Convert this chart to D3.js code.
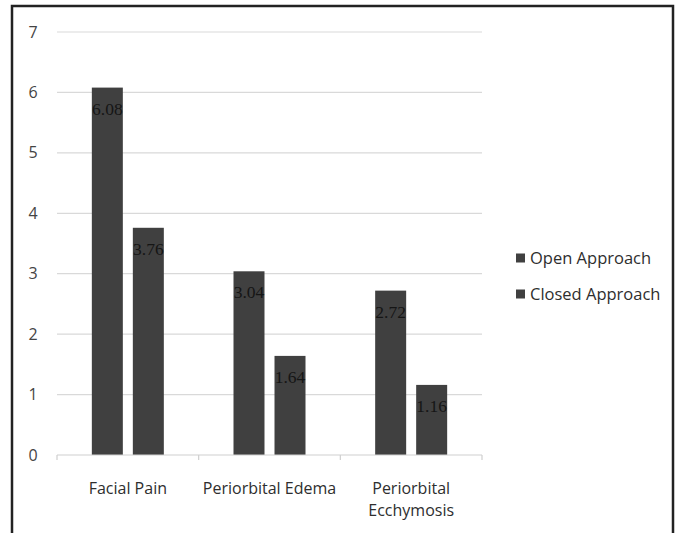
<!DOCTYPE html>
<html>
<head>
<meta charset="utf-8">
<script src="https://cdnjs.cloudflare.com/ajax/libs/d3/7.8.5/d3.min.js"></script>
<style>
  html, body { margin: 0; padding: 0; background: #fff; }
  svg { display: block; }
</style>
</head>
<body>
<svg id="chart" width="678" height="533"></svg>
<script>
// Symptom scores by surgical approach
const categories = [["Facial Pain"], ["Periorbital Edema"], ["Periorbital", "Ecchymosis"]];
const seriesNames = ["Open Approach", "Closed Approach"];
const openValues = [6.08, 3.04, 2.72];
const closedValues = [3.76, 1.64, 1.16];
const yTicks = [0, 1, 2, 3, 4, 5, 6, 7];

const svg = d3.select("#chart");
const W = 678, H = 533;
const plot = { left: 57, right: 482, top: 32, bottom: 455 };
const barColor = "#404040";
const textColor = "#2e2e2e";
const sansFont = "'Open Sans', Lato, sans-serif";

// outer frame (open at the bottom)
svg.append("path")
  .attr("d", `M12,${H} L12,6 L673,6 L673,${H}`)
  .attr("fill", "none")
  .attr("stroke", "#222")
  .attr("stroke-width", 2.5);

const x0 = d3.scaleBand()
  .domain(d3.range(categories.length))
  .range([plot.left, plot.right]);

const y = d3.scaleLinear()
  .domain([0, 7])
  .range([plot.bottom, plot.top]);

// horizontal gridlines
svg.append("g")
  .selectAll("line")
  .data(yTicks.filter(t => t > 0))
  .join("line")
  .attr("x1", plot.left).attr("x2", plot.right)
  .attr("y1", d => y(d)).attr("y2", d => y(d))
  .attr("stroke", "#d9d9d9")
  .attr("stroke-width", 1.2);

// y tick labels
svg.append("g")
  .selectAll("text")
  .data(yTicks)
  .join("text")
  .attr("x", 33)
  .attr("y", d => y(d))
  .attr("dy", "0.35em")
  .attr("text-anchor", "middle")
  .attr("font-family", sansFont)
  .attr("font-size", 16)
  .attr("fill", "#444")
  .text(d => d);

// bars
const groupInner = 72;
const x1 = d3.scaleBand().domain([0, 1]).range([0, groupInner]).paddingInner(0.244);
const series = [openValues, closedValues];

const groups = svg.append("g")
  .selectAll("g")
  .data(categories.map((c, i) => i))
  .join("g")
  .attr("transform", i => `translate(${x0(i) + (x0.bandwidth() - groupInner) / 2},0)`);

groups.selectAll("rect")
  .data(i => series.map((s, k) => ({ k, v: s[i] })))
  .join("rect")
  .attr("x", d => x1(d.k))
  .attr("width", x1.bandwidth())
  .attr("y", d => y(d.v))
  .attr("height", d => y(0) - y(d.v))
  .attr("fill", barColor);

// value labels inside the top of each bar
groups.selectAll("text")
  .data(i => series.map((s, k) => ({ k, v: s[i] })))
  .join("text")
  .attr("x", d => x1(d.k) + x1.bandwidth() / 2)
  .attr("y", d => y(d.v) + 21)
  .attr("dy", "0.35em")
  .attr("text-anchor", "middle")
  .attr("font-family", "'Liberation Serif', 'DejaVu Serif', serif")
  .attr("font-size", 17.5)
  .attr("fill", "#151515")
  .text(d => d.v.toFixed(2));

// category axis line and ticks
svg.append("line")
  .attr("x1", plot.left).attr("x2", plot.right)
  .attr("y1", plot.bottom).attr("y2", plot.bottom)
  .attr("stroke", "#cfcfcf").attr("stroke-width", 1.2);

svg.append("g")
  .selectAll("line")
  .data(d3.range(categories.length + 1))
  .join("line")
  .attr("x1", i => plot.left + i * x0.bandwidth())
  .attr("x2", i => plot.left + i * x0.bandwidth())
  .attr("y1", plot.bottom).attr("y2", plot.bottom + 5)
  .attr("stroke", "#cfcfcf").attr("stroke-width", 1.2);

// category labels
const catLabels = svg.append("g")
  .selectAll("text")
  .data(categories.map((c, i) => ({ c, i })))
  .join("text")
  .attr("x", d => x0(d.i) + x0.bandwidth() / 2)
  .attr("y", 488)
  .attr("text-anchor", "middle")
  .attr("font-family", sansFont)
  .attr("font-size", 16)
  .attr("fill", textColor);

catLabels.selectAll("tspan")
  .data(d => d.c.map((line, j) => ({ line, j, x: x0(d.i) + x0.bandwidth() / 2 })))
  .join("tspan")
  .attr("x", d => d.x)
  .attr("dy", d => d.j === 0 ? "0.35em" : "1.4em")
  .text(d => d.line);

// legend
const legend = svg.append("g")
  .selectAll("g")
  .data(seriesNames)
  .join("g")
  .attr("transform", (d, i) => `translate(516,${258 + i * 36})`);

legend.append("rect")
  .attr("x", 0).attr("y", -4.5)
  .attr("width", 9).attr("height", 9)
  .attr("fill", barColor);

legend.append("text")
  .attr("x", 14)
  .attr("y", 0)
  .attr("dy", "0.35em")
  .attr("font-family", sansFont)
  .attr("font-size", 16.5)
  .attr("fill", textColor)
  .text(d => d);
</script>
</body>
</html>
